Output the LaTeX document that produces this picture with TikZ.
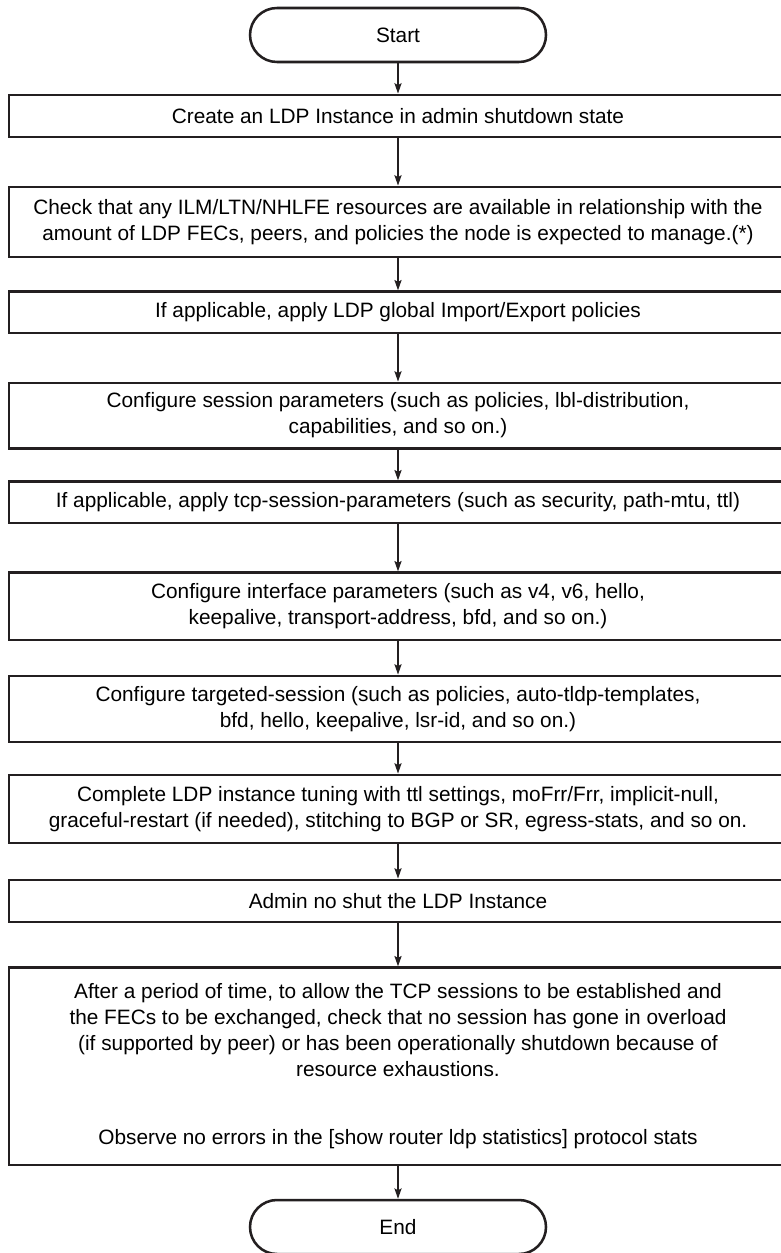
\documentclass[tikz,border=0pt]{standalone}
\usepackage{fontspec}
\setmainfont{Liberation Sans}
\usepackage{xcolor}
\usepackage{tikz}
\usetikzlibrary{arrows.meta}

\definecolor{ink}{HTML}{231F20}

\begin{document}
\begin{tikzpicture}[
		font=\fontsize{14.8}{18.5}\selectfont,
		box/.style={draw=ink, line width=2.1pt, fill=white, align=center,
			minimum width=\bw cm, inner sep=0pt},
		term/.style={draw=ink, line width=1.8pt, fill=white, rounded corners=0.675cm,
			minimum width=7.4cm, minimum height=1.35cm, inner sep=0pt},
		flow/.style={draw=ink, line width=0.9pt, -{Stealth[length=2.6mm, width=1.8mm, inset=0.5mm]}}
	]
		% ---- Page geometry ----
		\def\W{19.5}     % picture width
		\def\H{31.325}   % picture height
		\def\bw{19.45}   % box width (right edge runs off the page)
		\def\cx{9.95}    % centre line of the flow
		
		\useasboundingbox (0,0) rectangle (\W,-\H);
		
		% ---- Terminals ----
		\node[term] (start) at (\cx,-0.875) {Start};
		\node[term] (stop)  at (\cx,-30.675) {End};
		
		% ---- Steps ----
		\node[box, minimum height=1.05cm] (inst) at (\cx,-2.9)
			{Create an LDP Instance in admin shutdown state};
		\node[box, minimum height=1.75cm] (res) at (\cx,-5.55)
			{Check that any ILM/LTN/NHLFE resources are available in relationship with the\\
			 amount of LDP FECs, peers, and policies the node is expected to manage.(*)};
		\node[box, minimum height=1.03cm] (glob) at (\cx,-7.81)
			{If applicable, apply LDP global Import/Export policies};
		\node[box, minimum height=1.63cm] (sess) at (\cx,-10.39)
			{Configure session parameters (such as policies, lbl-distribution,\\
			 capabilities, and so on.)};
		\node[box, minimum height=1.03cm] (tcp) at (\cx,-12.56)
			{If applicable, apply tcp-session-parameters (such as security, path-mtu, ttl)};
		\node[box, minimum height=1.68cm] (intf) at (\cx,-15.16)
			{Configure interface parameters (such as v4, v6, hello,\\
			 keepalive, transport-address, bfd, and so on.)};
		\node[box, minimum height=1.65cm] (targ) at (\cx,-17.725)
			{Configure targeted-session (such as policies, auto-tldp-templates,\\
			 bfd, hello, keepalive, lsr-id, and so on.)};
		\node[box, minimum height=1.70cm] (tune) at (\cx,-20.225)
			{Complete LDP instance tuning with ttl settings, moFrr/Frr, implicit-null,\\
			 graceful-restart (if needed), stitching to BGP or SR, egress-stats, and so on.};
		\node[box, minimum height=1.05cm] (noshut) at (\cx,-22.525)
			{Admin no shut the LDP Instance};
		\node[box, minimum height=4.93cm] (check) at (\cx,-26.66)
			{After a period of time, to allow the TCP sessions to be established and\\
			 the FECs to be exchanged, check that no session has gone in overload\\
			 (if supported by peer) or has been operationally shutdown because of\\
			 resource exhaustions.\\[1.05cm]
			 Observe no errors in the [show router ldp statistics] protocol stats};
		
		% ---- Connectors ----
		\foreach \a/\b in {start/inst, inst/res, res/glob, glob/sess, sess/tcp,
			tcp/intf, intf/targ, targ/tune, tune/noshut, noshut/check, check/stop} {
			\draw[flow] (\a) -- (\b);
		}
		
	\end{tikzpicture}
\end{document}
